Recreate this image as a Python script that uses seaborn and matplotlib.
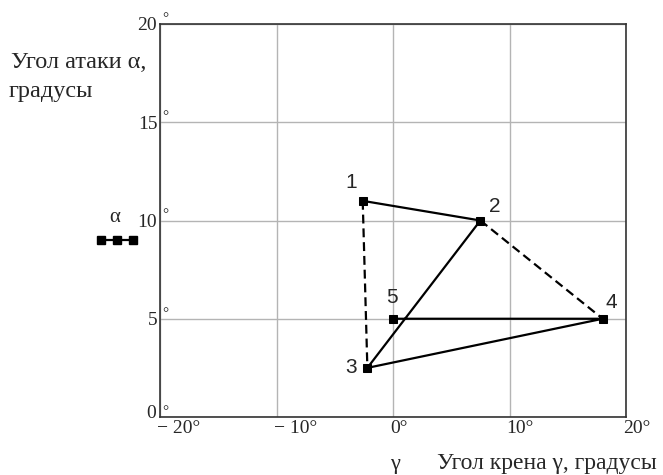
import matplotlib
matplotlib.use("Agg")
import matplotlib.pyplot as plt
import matplotlib.transforms as mtrans
import seaborn as sns
import pandas as pd
from matplotlib.lines import Line2D

# ---- data ----
point_labels = ["1", "2", "3", "4", "5"]
gamma = [-2.6, 7.5, -2.2, 18.0, 0.0]      # roll angle, degrees
alpha = [11.0, 10.0, 2.5, 5.0, 5.0]       # angle of attack, degrees
dashed_pairs = [(0, 2), (1, 3)]           # 1-3 and 2-4 dashed
x_ticks = [-20, -10, 0, 10, 20]
x_tick_labels = ["\u2212 20\u00b0", "\u2212 10\u00b0", "0\u00b0", "10\u00b0", "20\u00b0"]
y_ticks = [0, 5, 10, 15, 20]
y_tick_labels = ["0", "5", "10", "15", "20"]

sns.set_style("white")
plt.rcParams['font.family'] = ['Liberation Serif', 'DejaVu Serif']

W, H = 663, 475
fig = plt.figure(figsize=(W/100, H/100), dpi=100)
ax = fig.add_axes([160/W, 1-417/H, 466/W, 393/H])

df = pd.DataFrame({"gamma": gamma, "alpha": alpha, "label": point_labels})

# solid path 1-2-3-4-5
sns.lineplot(data=df, x="gamma", y="alpha", sort=False, estimator=None, ax=ax,
             color="black", lw=1.6, marker="s", markersize=6, markeredgecolor="black",
             zorder=4)
# dashed segments
for i, j in dashed_pairs:
    seg = df.iloc[[i, j]]
    sns.lineplot(data=seg, x="gamma", y="alpha", sort=False, estimator=None, ax=ax,
                 color="black", lw=1.6, linestyle=(0, (4, 2.2)), zorder=3)

offsets = [(-8, 13), (10, 10), (-12, 0), (6, 12), (-1, 15)]
for (gx, ay, lab, off) in zip(gamma, alpha, point_labels, offsets):
    ax.annotate(lab, (gx, ay), xytext=off, textcoords="offset points",
                ha="center", va="center", fontsize=15, family="Liberation Sans")

ax.set_xlim(-20, 20)
ax.set_ylim(0, 20)
ax.set_xticks(x_ticks)
ax.set_xticklabels(x_tick_labels, fontsize=14, ha="left")
ax.set_yticks(y_ticks)
ax.set_yticklabels(y_tick_labels, fontsize=14)
ax.tick_params(axis="both", length=0)
ax.tick_params(axis="x", pad=2)
ax.tick_params(axis="y", pad=2)
shift = mtrans.ScaledTranslation(-3/100, 0, fig.dpi_scale_trans)
for lab in ax.get_xticklabels():
    lab.set_transform(lab.get_transform() + shift)
shift_y0 = mtrans.ScaledTranslation(-1/100, 5/100, fig.dpi_scale_trans)
ax.get_yticklabels()[0].set_transform(ax.get_yticklabels()[0].get_transform() + shift_y0)
ax.grid(True, color="#b4b4b4", lw=1)
ax.set_xlabel("")
ax.set_ylabel("")
for s in ax.spines.values():
    s.set_color("#333333")
    s.set_linewidth(1.2)

# degree marks next to y ticks (Mathcad style)
for yv in y_ticks:
    ax.annotate("\u00b0", (-20, yv), xytext=(1.5, 1.5), textcoords="offset points",
                ha="left", va="baseline", fontsize=11)

# axis titles
fig.text(11/W, 1-68/H, "Угол атаки \u03b1,", fontsize=17.5, ha="left", va="baseline")
fig.text(9/W, 1-97/H, "градусы", fontsize=17.5, ha="left", va="baseline")
fig.text(437/W, 1-469/H, "Угол крена \u03b3, градусы", fontsize=17, ha="left", va="baseline")
fig.text(395/W, 1-469/H, "\u03b3", fontsize=16, ha="center", va="baseline")

# trace legend (Mathcad style)
fig.text(115/W, 1-218/H, "\u03b1", fontsize=15, ha="center", va="center")
fig.add_artist(Line2D([101/W, 117/W, 133/W], [1-240/H]*3, transform=fig.transFigure,
                      color="black", lw=1.6, marker="s", markersize=6))

fig.savefig("out.png", dpi=100)
